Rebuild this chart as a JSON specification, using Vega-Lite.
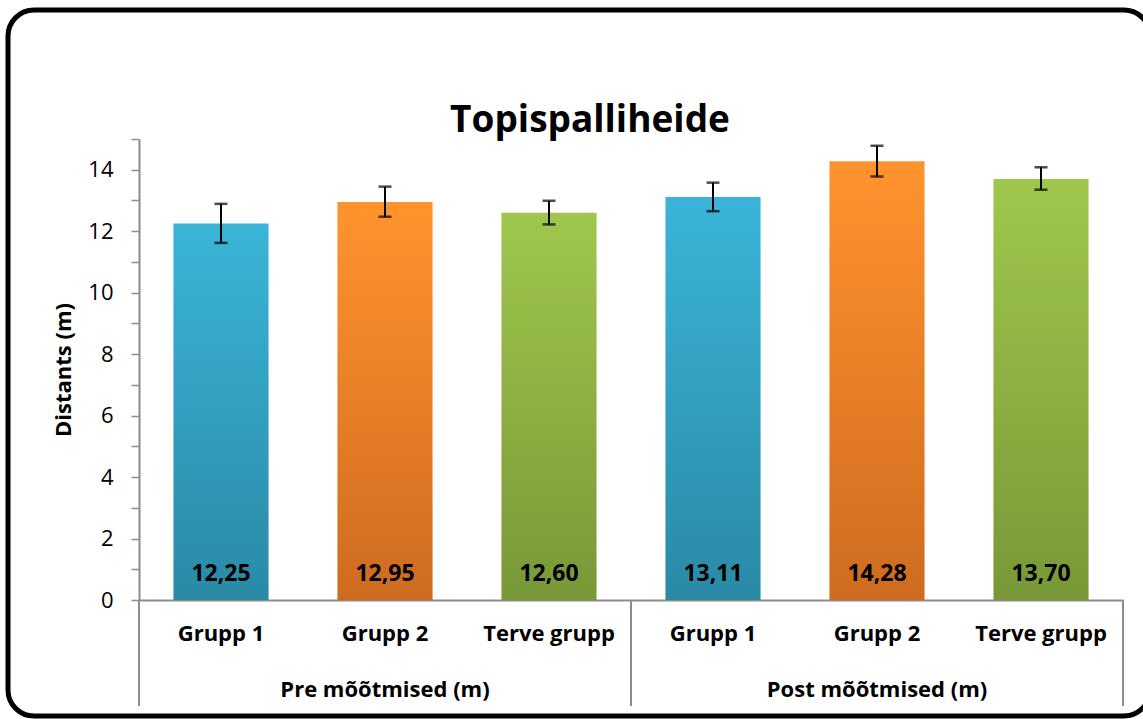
{
  "$schema": "https://vega.github.io/schema/vega-lite/v6.json",
  "autosize": "none",
  "width": 1142,
  "height": 706,
  "padding": {"left": 8, "top": 10, "right": -7, "bottom": 3},
  "background": "white",
  "config": {
    "view": {"stroke": "black", "strokeWidth": 5, "cornerRadius": 26},
    "locale": {"number": {"decimal": ",", "thousands": " ", "grouping": [3], "currency": ["", " €"]}},
    "font": "Open Sans"
  },
  "title": {
    "text": "Topispalliheide",
    "font": "Open Sans",
    "fontSize": 37,
    "fontWeight": "bold",
    "color": "black",
    "anchor": "middle",
    "frame": "group",
    "baseline": "alphabetic",
    "offset": -159,
    "dx": 11
  },
  "data": {
    "values": [
      {"bar": "Pre|Grupp 1", "phase": "Pre mõõtmised (m)", "group": "Grupp 1", "value": 12.25, "lo": 11.62, "hi": 12.89},
      {"bar": "Pre|Grupp 2", "phase": "Pre mõõtmised (m)", "group": "Grupp 2", "value": 12.95, "lo": 12.47, "hi": 13.45},
      {"bar": "Pre|Terve grupp", "phase": "Pre mõõtmised (m)", "group": "Terve grupp", "value": 12.60, "lo": 12.22, "hi": 12.99},
      {"bar": "Post|Grupp 1", "phase": "Post mõõtmised (m)", "group": "Grupp 1", "value": 13.11, "lo": 12.65, "hi": 13.58},
      {"bar": "Post|Grupp 2", "phase": "Post mõõtmised (m)", "group": "Grupp 2", "value": 14.28, "lo": 13.78, "hi": 14.78},
      {"bar": "Post|Terve grupp", "phase": "Post mõõtmised (m)", "group": "Terve grupp", "value": 13.70, "lo": 13.35, "hi": 14.08}
    ]
  },
  "encoding": {
    "x": {
      "field": "bar",
      "type": "nominal",
      "sort": ["Pre|Grupp 1", "Pre|Grupp 2", "Pre|Terve grupp", "Post|Grupp 1", "Post|Grupp 2", "Post|Terve grupp"],
      "scale": {"domain": ["Pre|Grupp 1", "Pre|Grupp 2", "Pre|Terve grupp", "Post|Grupp 1", "Post|Grupp 2", "Post|Terve grupp"], "range": [131, 1115], "paddingInner": 0.42, "paddingOuter": 0.21},
      "axis": {
        "title": null,
        "orient": "bottom",
        "offset": -116,
        "labelExpr": "split(datum.value, '|')[1]",
        "labelAngle": 0,
        "labelFont": "Open Sans",
        "labelFontSize": 22,
        "labelFontWeight": "bold",
        "labelColor": "black",
        "labelPadding": 23,
        "ticks": false,
        "domainColor": "#8C8C8C",
        "domainWidth": 2
      }
    }
  },
  "layer": [
    {
      "transform": [{"filter": "datum.group === 'Grupp 1'"}],
      "mark": {"type": "bar", "fill": {"gradient": "linear", "x1": 0, "y1": 0, "x2": 0, "y2": 1, "stops": [{"offset": 0, "color": "#3AB4D8"}, {"offset": 1, "color": "#2A8AA6"}]}},
      "encoding": {
        "y": {
          "field": "value",
          "type": "quantitative",
          "scale": {"domain": [0, 15], "range": [590, 129], "nice": false, "zero": true},
          "axis": {
            "title": "Distants (m)",
            "orient": "left",
            "offset": -131,
            "values": [0, 0.5, 1, 1.5, 2, 2.5, 3, 3.5, 4, 4.5, 5, 5.5, 6, 6.5, 7, 7.5, 8, 8.5, 9, 9.5, 10, 10.5, 11, 11.5, 12, 12.5, 13, 13.5, 14, 14.5, 15],
            "labelExpr": "(datum.value % 2 === 0 && datum.value <= 14) ? datum.label : ''",
            "grid": false,
            "tickSize": 8,
            "tickColor": "#8C8C8C",
            "tickWidth": 1.5,
            "domainColor": "#8C8C8C",
            "domainWidth": 2,
            "labelFont": "Open Sans",
            "labelFontSize": 22,
            "labelColor": "black",
            "labelPadding": 18,
            "titleFont": "Open Sans",
            "titleFontSize": 22,
            "titleFontWeight": "bold",
            "titleColor": "black",
            "titlePadding": 12
          }
        }
      }
    },
    {
      "transform": [{"filter": "datum.group === 'Grupp 2'"}],
      "mark": {"type": "bar", "fill": {"gradient": "linear", "x1": 0, "y1": 0, "x2": 0, "y2": 1, "stops": [{"offset": 0, "color": "#FF932E"}, {"offset": 1, "color": "#CE6B1F"}]}},
      "encoding": {"y": {"field": "value", "type": "quantitative"}}
    },
    {
      "transform": [{"filter": "datum.group === 'Terve grupp'"}],
      "mark": {"type": "bar", "fill": {"gradient": "linear", "x1": 0, "y1": 0, "x2": 0, "y2": 1, "stops": [{"offset": 0, "color": "#9FC74C"}, {"offset": 1, "color": "#789837"}]}},
      "encoding": {"y": {"field": "value", "type": "quantitative"}}
    },
    {
      "mark": {"type": "rule", "color": "black", "strokeWidth": 2},
      "encoding": {"y": {"field": "lo", "type": "quantitative"}, "y2": {"field": "hi"}}
    },
    {
      "mark": {"type": "tick", "color": "black", "thickness": 2.5, "size": 13, "orient": "horizontal"},
      "encoding": {"y": {"field": "lo", "type": "quantitative"}}
    },
    {
      "mark": {"type": "tick", "color": "black", "thickness": 2.5, "size": 13, "orient": "horizontal"},
      "encoding": {"y": {"field": "hi", "type": "quantitative"}}
    },
    {
      "mark": {"type": "text", "font": "Open Sans", "fontSize": 23, "fontWeight": "bold", "color": "black", "baseline": "alphabetic", "dy": -19},
      "encoding": {
        "y": {"datum": 0},
        "text": {"field": "value", "type": "quantitative", "format": ".2f"}
      }
    },
    {
      "transform": [{"filter": "datum.group === 'Grupp 1'"}],
      "mark": {"type": "rule", "color": "#8C8C8C", "strokeWidth": 2},
      "encoding": {
        "x": {"field": "bar", "type": "nominal", "bandPosition": -0.362},
        "y": {"datum": 0},
        "y2": {"datum": -3.45}
      }
    },
    {
      "transform": [{"filter": "datum.bar === 'Post|Terve grupp'"}],
      "mark": {"type": "rule", "color": "#8C8C8C", "strokeWidth": 2},
      "encoding": {
        "x": {"field": "bar", "type": "nominal", "bandPosition": 1.362},
        "y": {"datum": 0},
        "y2": {"datum": -3.45}
      }
    },
    {
      "transform": [{"filter": "datum.group === 'Grupp 2'"}],
      "mark": {"type": "text", "font": "Open Sans", "fontSize": 22, "fontWeight": "bold", "color": "black", "baseline": "alphabetic"},
      "encoding": {
        "y": {"datum": -3.15},
        "text": {"field": "phase", "type": "nominal"}
      }
    }
  ]
}
